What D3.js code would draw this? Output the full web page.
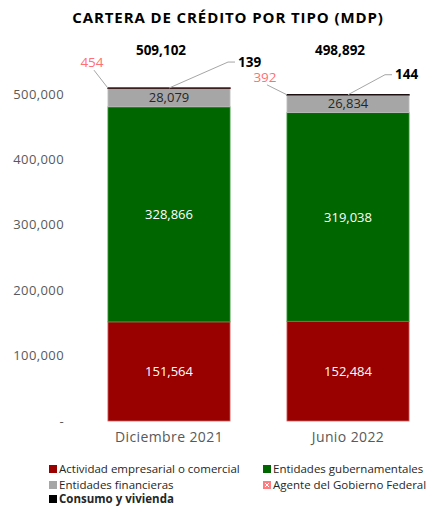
<!DOCTYPE html>
<html><head><meta charset="utf-8">
<script src="https://cdn.jsdelivr.net/npm/d3@7"></script>
<style>
html,body{margin:0;padding:0;background:#fff;}
svg{display:block;font-family:"Open Sans","Noto Sans",sans-serif;}
</style></head>
<body><svg id="c" width="429" height="506"></svg>
<script>
const categories = ["Diciembre 2021", "Junio 2022"];
const seriesNames = ["Actividad empresarial o comercial", "Entidades gubernamentales", "Entidades financieras", "Agente del Gobierno Federal", "Consumo y vivienda"];
const actividad = [151564, 152484];
const gubernamentales = [328866, 319038];
const financieras = [28079, 26834];
const agente = [454, 392];
const consumo = [139, 144];
const yTicks = [0, 100000, 200000, 300000, 400000, 500000];
const colors = ["#990000", "#006600", "#a6a6a6", "#ff7c80", "#000000"];
const strokes = ["#d06060", "#3a9a3a", "#bfbfbf", "#ff7c80", "#000000"];

const seriesValues = [actividad, gubernamentales, financieras, agente, consumo];
const svg = d3.select("#c");

const x = d3.scaleBand().domain(categories).range([79.5, 437.5]).paddingInner(0.318).paddingOuter(0.159);
const y = d3.scaleLinear().domain([0, 500000]).range([421, 94]);

// title
svg.append("text").attr("x", 228).attr("y", 23).attr("text-anchor", "middle")
  .attr("font-size", 15).attr("font-weight", "bold").attr("fill", "#000")
  .attr("letter-spacing", 0.9)
  .text("CARTERA DE CRÉDITO POR TIPO (MDP)");

// y axis
const yAxis = svg.append("g").attr("transform", "translate(66,0)")
  .call(d3.axisLeft(y).tickValues(yTicks).tickSize(0).tickPadding(2)
    .tickFormat(d => d === 0 ? "-" : d3.format(",")(d)));
yAxis.select(".domain").remove();
yAxis.selectAll("text").attr("font-size", 13).attr("fill", "#595959")
  .attr("font-family", "Open Sans").attr("letter-spacing", 0.4);

// x axis
const xAxis = svg.append("g").attr("transform", "translate(0,421)")
  .call(d3.axisBottom(x).tickSize(0).tickPadding(11));
xAxis.select(".domain").remove();
xAxis.selectAll("text").attr("font-size", 14).attr("fill", "#595959")
  .attr("font-family", "Open Sans").attr("letter-spacing", 0.4);

// stacked data
const rows = categories.map((c, i) => {
  const o = {cat: c};
  seriesNames.forEach((s, k) => o[s] = seriesValues[k][i]);
  return o;
});
const stack = d3.stack().keys(seriesNames)(rows);

stack.forEach((layer, k) => {
  svg.append("g").selectAll("rect").data(layer).join("rect")
    .attr("x", d => x(d.data.cat))
    .attr("width", x.bandwidth())
    .attr("y", d => y(d[1]))
    .attr("height", d => Math.max(0.01, y(d[0]) - y(d[1])))
    .attr("fill", colors[k])
    .attr("stroke", strokes[k])
    .attr("stroke-width", k >= 3 ? 1.2 : 0.8);
});

// inner labels
const innerColors = ["#ffffff", "#ffffff", "#262626"];
[0, 1, 2].forEach(k => {
  svg.append("g").selectAll("text").data(stack[k]).join("text")
    .attr("x", d => x(d.data.cat) + x.bandwidth() / 2)
    .attr("y", d => (y(d[0]) + y(d[1])) / 2)
    .attr("dy", "0.35em").attr("text-anchor", "middle")
    .attr("font-size", 13).attr("fill", innerColors[k])
    .text(d => d3.format(",")(d[1] - d[0]));
});

// totals
const totals = rows.map(r => d3.sum(seriesNames, s => r[s]));
svg.append("g").selectAll("text").data(categories).join("text")
  .attr("x", c => x(c) + x.bandwidth() / 2 - 8)
  .attr("y", 50).attr("dy", "0.35em").attr("text-anchor", "middle")
  .attr("font-size", 13.5).attr("font-weight", "bold").attr("fill", "#000")
  .text((c, i) => d3.format(",")(totals[i]));

// callouts for small segments (layout offsets)
const agenteLayout = [{dx: -12, dy: -26}, {dx: -18, dy: -18}];
const consumoLayout = [{dx: 68, dy: -26}, {dx: 46, dy: -20}];
const leader = svg.append("g").attr("stroke", "#a6a6a6").attr("stroke-width", 1).attr("fill", "none");

categories.forEach((c, i) => {
  const left = x(c), mid = x(c) + x.bandwidth() / 2;
  const topA = y(stack[3][i][1]);
  const topC = y(stack[4][i][1]);
  // agente
  const la = agenteLayout[i];
  const ax = left + la.dx, ay = topA + la.dy;
  leader.append("path").attr("d", `M${ax - 2},${ay + 8} L${left},${topA}`);
  svg.append("text").attr("x", ax - 4).attr("y", ay).attr("dy", "0.35em")
    .attr("text-anchor", "middle").attr("font-size", 13.5).attr("fill", "#ff6f73")
    .text(d3.format(",")(agente[i]));
  // consumo
  const lc = consumoLayout[i];
  const cx = mid + lc.dx, cy = topC + lc.dy;
  leader.append("path").attr("d", `M${cx - 2},${cy} L${cx - 9},${cy} L${mid},${topC}`);
  svg.append("text").attr("x", cx + 1).attr("y", cy).attr("dy", "0.35em")
    .attr("text-anchor", "start").attr("font-size", 13.5).attr("font-weight", "bold").attr("fill", "#000")
    .text(d3.format(",")(consumo[i]));
});

// legend
const legendPos = [[49, 469], [263, 469], [49, 485], [263, 485], [49, 499]];
const lg = svg.append("g");
seriesNames.forEach((s, k) => {
  const [lx, ly] = legendPos[k];
  lg.append("rect").attr("x", lx).attr("y", ly - 4).attr("width", 8).attr("height", 8).attr("fill", colors[k]);
  if (k === 3) {
    lg.append("path").attr("d", `M${lx + 2},${ly - 2} L${lx + 6},${ly + 2} M${lx + 6},${ly - 2} L${lx + 2},${ly + 2}`)
      .attr("stroke", "#fff").attr("stroke-width", 1);
  }
  lg.append("text").attr("x", lx + 10).attr("y", ly).attr("dy", "0.35em")
    .attr("font-size", 11.5).attr("fill", "#262626")
    .attr("font-weight", k === 4 ? "bold" : "normal")
    .text(s);
});
</script></body></html>
